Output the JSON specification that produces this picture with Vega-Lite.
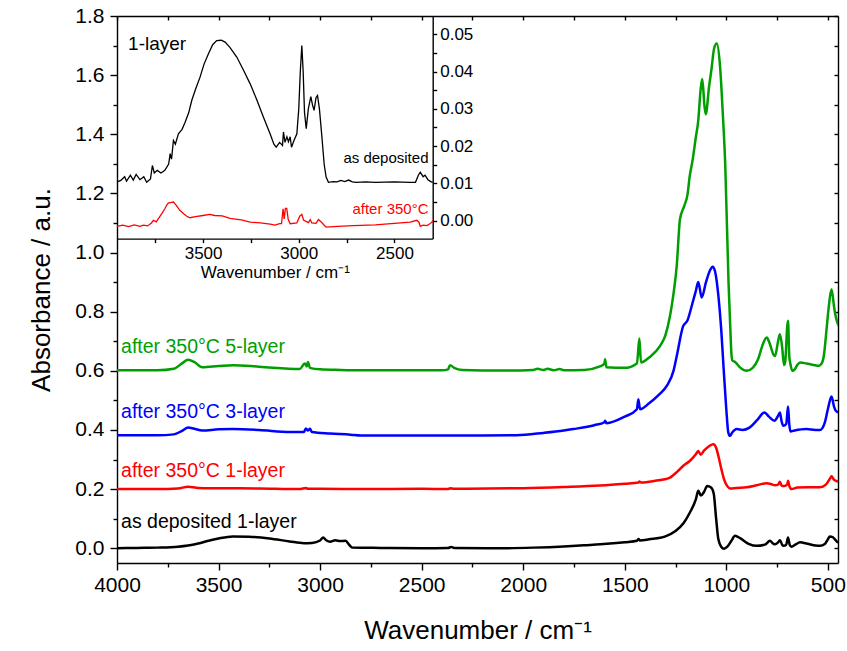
{
  "$schema": "https://vega.github.io/schema/vega-lite/v6.json",
  "width": 721,
  "height": 547,
  "autosize": {"type": "none"},
  "padding": {"left": 117, "top": 16, "right": 9, "bottom": 88},
  "config": {
    "font": "Liberation Sans",
    "view": {"stroke": null},
    "axis": {"grid": false, "domainColor": "#000", "domainWidth": 1.4, "tickColor": "#000", "tickWidth": 1.4, "labelColor": "#000", "titleColor": "#000", "titleFontWeight": "normal", "labelFlush": false, "labelOverlap": false}
  },
  "datasets": {
    "main": [
      {"s":"as deposited 1-layer","w":4000,"a":0.0},{"s":"as deposited 1-layer","w":3900,"a":0.001},{"s":"as deposited 1-layer","w":3800,"a":0.002},{"s":"as deposited 1-layer","w":3700,"a":0.005},{"s":"as deposited 1-layer","w":3650,"a":0.009},{"s":"as deposited 1-layer","w":3600,"a":0.016},{"s":"as deposited 1-layer","w":3550,"a":0.025},{"s":"as deposited 1-layer","w":3500,"a":0.033},{"s":"as deposited 1-layer","w":3430,"a":0.04},{"s":"as deposited 1-layer","w":3350,"a":0.039},{"s":"as deposited 1-layer","w":3250,"a":0.033},{"s":"as deposited 1-layer","w":3150,"a":0.023},{"s":"as deposited 1-layer","w":3080,"a":0.017},{"s":"as deposited 1-layer","w":3040,"a":0.018},{"s":"as deposited 1-layer","w":3000,"a":0.026},{"s":"as deposited 1-layer","w":2985,"a":0.036},{"s":"as deposited 1-layer","w":2970,"a":0.027},{"s":"as deposited 1-layer","w":2950,"a":0.022},{"s":"as deposited 1-layer","w":2925,"a":0.027},{"s":"as deposited 1-layer","w":2900,"a":0.024},{"s":"as deposited 1-layer","w":2875,"a":0.025},{"s":"as deposited 1-layer","w":2855,"a":0.01},{"s":"as deposited 1-layer","w":2840,"a":0.002},{"s":"as deposited 1-layer","w":2700,"a":0.001},{"s":"as deposited 1-layer","w":2500,"a":0.0},{"s":"as deposited 1-layer","w":2370,"a":0.001},{"s":"as deposited 1-layer","w":2355,"a":0.004},{"s":"as deposited 1-layer","w":2340,"a":0.001},{"s":"as deposited 1-layer","w":2100,"a":0.0},{"s":"as deposited 1-layer","w":1950,"a":0.002},{"s":"as deposited 1-layer","w":1800,"a":0.006},{"s":"as deposited 1-layer","w":1700,"a":0.01},{"s":"as deposited 1-layer","w":1620,"a":0.013},{"s":"as deposited 1-layer","w":1500,"a":0.02},{"s":"as deposited 1-layer","w":1440,"a":0.025},{"s":"as deposited 1-layer","w":1432,"a":0.031},{"s":"as deposited 1-layer","w":1425,"a":0.026},{"s":"as deposited 1-layer","w":1380,"a":0.03},{"s":"as deposited 1-layer","w":1300,"a":0.04},{"s":"as deposited 1-layer","w":1250,"a":0.058},{"s":"as deposited 1-layer","w":1210,"a":0.085},{"s":"as deposited 1-layer","w":1180,"a":0.12},{"s":"as deposited 1-layer","w":1150,"a":0.165},{"s":"as deposited 1-layer","w":1138,"a":0.194},{"s":"as deposited 1-layer","w":1125,"a":0.178},{"s":"as deposited 1-layer","w":1110,"a":0.19},{"s":"as deposited 1-layer","w":1094,"a":0.21},{"s":"as deposited 1-layer","w":1075,"a":0.205},{"s":"as deposited 1-layer","w":1062,"a":0.185},{"s":"as deposited 1-layer","w":1050,"a":0.1},{"s":"as deposited 1-layer","w":1039,"a":0.03},{"s":"as deposited 1-layer","w":1025,"a":0.005},{"s":"as deposited 1-layer","w":1011,"a":-0.002},{"s":"as deposited 1-layer","w":995,"a":0.005},{"s":"as deposited 1-layer","w":975,"a":0.025},{"s":"as deposited 1-layer","w":957,"a":0.042},{"s":"as deposited 1-layer","w":930,"a":0.033},{"s":"as deposited 1-layer","w":890,"a":0.015},{"s":"as deposited 1-layer","w":850,"a":0.008},{"s":"as deposited 1-layer","w":810,"a":0.012},{"s":"as deposited 1-layer","w":785,"a":0.025},{"s":"as deposited 1-layer","w":770,"a":0.016},{"s":"as deposited 1-layer","w":760,"a":0.013},{"s":"as deposited 1-layer","w":745,"a":0.02},{"s":"as deposited 1-layer","w":736,"a":0.027},{"s":"as deposited 1-layer","w":725,"a":0.012},{"s":"as deposited 1-layer","w":719,"a":0.008},{"s":"as deposited 1-layer","w":705,"a":0.012},{"s":"as deposited 1-layer","w":696,"a":0.036},{"s":"as deposited 1-layer","w":688,"a":0.012},{"s":"as deposited 1-layer","w":679,"a":0.005},{"s":"as deposited 1-layer","w":660,"a":0.012},{"s":"as deposited 1-layer","w":637,"a":0.02},{"s":"as deposited 1-layer","w":600,"a":0.015},{"s":"as deposited 1-layer","w":560,"a":0.009},{"s":"as deposited 1-layer","w":539,"a":0.008},{"s":"as deposited 1-layer","w":515,"a":0.014},{"s":"as deposited 1-layer","w":500,"a":0.03},{"s":"as deposited 1-layer","w":490,"a":0.04},{"s":"as deposited 1-layer","w":475,"a":0.037},{"s":"as deposited 1-layer","w":465,"a":0.03},{"s":"as deposited 1-layer","w":455,"a":0.022},{"s":"as deposited 1-layer","w":448,"a":0.02},
      {"s":"after 350°C 1-layer","w":4000,"a":0.2},{"s":"after 350°C 1-layer","w":3800,"a":0.2},{"s":"after 350°C 1-layer","w":3700,"a":0.202},{"s":"after 350°C 1-layer","w":3650,"a":0.208},{"s":"after 350°C 1-layer","w":3600,"a":0.204},{"s":"after 350°C 1-layer","w":3500,"a":0.203},{"s":"after 350°C 1-layer","w":3300,"a":0.202},{"s":"after 350°C 1-layer","w":3100,"a":0.2},{"s":"after 350°C 1-layer","w":3070,"a":0.204},{"s":"after 350°C 1-layer","w":3060,"a":0.201},{"s":"after 350°C 1-layer","w":3000,"a":0.201},{"s":"after 350°C 1-layer","w":2800,"a":0.2},{"s":"after 350°C 1-layer","w":2500,"a":0.201},{"s":"after 350°C 1-layer","w":2370,"a":0.2},{"s":"after 350°C 1-layer","w":2360,"a":0.203},{"s":"after 350°C 1-layer","w":2340,"a":0.201},{"s":"after 350°C 1-layer","w":2000,"a":0.203},{"s":"after 350°C 1-layer","w":1800,"a":0.207},{"s":"after 350°C 1-layer","w":1622,"a":0.212},{"s":"after 350°C 1-layer","w":1500,"a":0.218},{"s":"after 350°C 1-layer","w":1432,"a":0.222},{"s":"after 350°C 1-layer","w":1428,"a":0.226},{"s":"after 350°C 1-layer","w":1420,"a":0.222},{"s":"after 350°C 1-layer","w":1350,"a":0.228},{"s":"after 350°C 1-layer","w":1280,"a":0.238},{"s":"after 350°C 1-layer","w":1240,"a":0.26},{"s":"after 350°C 1-layer","w":1210,"a":0.28},{"s":"after 350°C 1-layer","w":1180,"a":0.295},{"s":"after 350°C 1-layer","w":1150,"a":0.318},{"s":"after 350°C 1-layer","w":1138,"a":0.329},{"s":"after 350°C 1-layer","w":1126,"a":0.316},{"s":"after 350°C 1-layer","w":1110,"a":0.33},{"s":"after 350°C 1-layer","w":1085,"a":0.345},{"s":"after 350°C 1-layer","w":1064,"a":0.352},{"s":"after 350°C 1-layer","w":1050,"a":0.34},{"s":"after 350°C 1-layer","w":1039,"a":0.312},{"s":"after 350°C 1-layer","w":1025,"a":0.27},{"s":"after 350°C 1-layer","w":1011,"a":0.233},{"s":"after 350°C 1-layer","w":995,"a":0.21},{"s":"after 350°C 1-layer","w":982,"a":0.202},{"s":"after 350°C 1-layer","w":950,"a":0.204},{"s":"after 350°C 1-layer","w":900,"a":0.206},{"s":"after 350°C 1-layer","w":850,"a":0.213},{"s":"after 350°C 1-layer","w":801,"a":0.22},{"s":"after 350°C 1-layer","w":780,"a":0.217},{"s":"after 350°C 1-layer","w":760,"a":0.213},{"s":"after 350°C 1-layer","w":745,"a":0.215},{"s":"after 350°C 1-layer","w":736,"a":0.225},{"s":"after 350°C 1-layer","w":728,"a":0.212},{"s":"after 350°C 1-layer","w":715,"a":0.21},{"s":"after 350°C 1-layer","w":700,"a":0.215},{"s":"after 350°C 1-layer","w":696,"a":0.228},{"s":"after 350°C 1-layer","w":690,"a":0.212},{"s":"after 350°C 1-layer","w":680,"a":0.2},{"s":"after 350°C 1-layer","w":650,"a":0.205},{"s":"after 350°C 1-layer","w":600,"a":0.206},{"s":"after 350°C 1-layer","w":539,"a":0.206},{"s":"after 350°C 1-layer","w":510,"a":0.215},{"s":"after 350°C 1-layer","w":490,"a":0.235},{"s":"after 350°C 1-layer","w":482,"a":0.243},{"s":"after 350°C 1-layer","w":470,"a":0.232},{"s":"after 350°C 1-layer","w":460,"a":0.228},{"s":"after 350°C 1-layer","w":448,"a":0.225},
      {"s":"after 350°C 3-layer","w":4000,"a":0.382},{"s":"after 350°C 3-layer","w":3800,"a":0.382},{"s":"after 350°C 3-layer","w":3720,"a":0.385},{"s":"after 350°C 3-layer","w":3680,"a":0.397},{"s":"after 350°C 3-layer","w":3650,"a":0.408},{"s":"after 350°C 3-layer","w":3620,"a":0.404},{"s":"after 350°C 3-layer","w":3580,"a":0.398},{"s":"after 350°C 3-layer","w":3500,"a":0.402},{"s":"after 350°C 3-layer","w":3429,"a":0.403},{"s":"after 350°C 3-layer","w":3300,"a":0.4},{"s":"after 350°C 3-layer","w":3150,"a":0.393},{"s":"after 350°C 3-layer","w":3080,"a":0.393},{"s":"after 350°C 3-layer","w":3070,"a":0.405},{"s":"after 350°C 3-layer","w":3060,"a":0.398},{"s":"after 350°C 3-layer","w":3050,"a":0.404},{"s":"after 350°C 3-layer","w":3040,"a":0.393},{"s":"after 350°C 3-layer","w":2950,"a":0.388},{"s":"after 350°C 3-layer","w":2850,"a":0.384},{"s":"after 350°C 3-layer","w":2800,"a":0.381},{"s":"after 350°C 3-layer","w":2600,"a":0.381},{"s":"after 350°C 3-layer","w":2370,"a":0.381},{"s":"after 350°C 3-layer","w":2200,"a":0.381},{"s":"after 350°C 3-layer","w":2032,"a":0.382},{"s":"after 350°C 3-layer","w":1900,"a":0.39},{"s":"after 350°C 3-layer","w":1800,"a":0.398},{"s":"after 350°C 3-layer","w":1753,"a":0.403},{"s":"after 350°C 3-layer","w":1650,"a":0.416},{"s":"after 350°C 3-layer","w":1600,"a":0.426},{"s":"after 350°C 3-layer","w":1597,"a":0.431},{"s":"after 350°C 3-layer","w":1590,"a":0.423},{"s":"after 350°C 3-layer","w":1500,"a":0.445},{"s":"after 350°C 3-layer","w":1440,"a":0.47},{"s":"after 350°C 3-layer","w":1433,"a":0.504},{"s":"after 350°C 3-layer","w":1425,"a":0.47},{"s":"after 350°C 3-layer","w":1380,"a":0.49},{"s":"after 350°C 3-layer","w":1330,"a":0.52},{"s":"after 350°C 3-layer","w":1293,"a":0.549},{"s":"after 350°C 3-layer","w":1260,"a":0.6},{"s":"after 350°C 3-layer","w":1244,"a":0.65},{"s":"after 350°C 3-layer","w":1212,"a":0.752},{"s":"after 350°C 3-layer","w":1192,"a":0.769},{"s":"after 350°C 3-layer","w":1170,"a":0.82},{"s":"after 350°C 3-layer","w":1150,"a":0.87},{"s":"after 350°C 3-layer","w":1138,"a":0.9},{"s":"after 350°C 3-layer","w":1121,"a":0.848},{"s":"after 350°C 3-layer","w":1100,"a":0.9},{"s":"after 350°C 3-layer","w":1080,"a":0.94},{"s":"after 350°C 3-layer","w":1067,"a":0.952},{"s":"after 350°C 3-layer","w":1055,"a":0.935},{"s":"after 350°C 3-layer","w":1039,"a":0.854},{"s":"after 350°C 3-layer","w":1025,"a":0.74},{"s":"after 350°C 3-layer","w":1014,"a":0.617},{"s":"after 350°C 3-layer","w":1000,"a":0.47},{"s":"after 350°C 3-layer","w":990,"a":0.391},{"s":"after 350°C 3-layer","w":982,"a":0.38},{"s":"after 350°C 3-layer","w":970,"a":0.392},{"s":"after 350°C 3-layer","w":949,"a":0.403},{"s":"after 350°C 3-layer","w":920,"a":0.4},{"s":"after 350°C 3-layer","w":886,"a":0.408},{"s":"after 350°C 3-layer","w":850,"a":0.432},{"s":"after 350°C 3-layer","w":812,"a":0.459},{"s":"after 350°C 3-layer","w":790,"a":0.445},{"s":"after 350°C 3-layer","w":763,"a":0.431},{"s":"after 350°C 3-layer","w":745,"a":0.448},{"s":"after 350°C 3-layer","w":736,"a":0.459},{"s":"after 350°C 3-layer","w":728,"a":0.43},{"s":"after 350°C 3-layer","w":719,"a":0.414},{"s":"after 350°C 3-layer","w":705,"a":0.42},{"s":"after 350°C 3-layer","w":696,"a":0.479},{"s":"after 350°C 3-layer","w":690,"a":0.42},{"s":"after 350°C 3-layer","w":684,"a":0.395},{"s":"after 350°C 3-layer","w":664,"a":0.398},{"s":"after 350°C 3-layer","w":606,"a":0.403},{"s":"after 350°C 3-layer","w":560,"a":0.4},{"s":"after 350°C 3-layer","w":539,"a":0.4},{"s":"after 350°C 3-layer","w":515,"a":0.425},{"s":"after 350°C 3-layer","w":500,"a":0.47},{"s":"after 350°C 3-layer","w":482,"a":0.513},{"s":"after 350°C 3-layer","w":470,"a":0.48},{"s":"after 350°C 3-layer","w":461,"a":0.465},{"s":"after 350°C 3-layer","w":446,"a":0.459},
      {"s":"after 350°C 5-layer","w":4000,"a":0.602},{"s":"after 350°C 5-layer","w":3800,"a":0.602},{"s":"after 350°C 5-layer","w":3720,"a":0.607},{"s":"after 350°C 5-layer","w":3680,"a":0.625},{"s":"after 350°C 5-layer","w":3650,"a":0.637},{"s":"after 350°C 5-layer","w":3620,"a":0.63},{"s":"after 350°C 5-layer","w":3580,"a":0.612},{"s":"after 350°C 5-layer","w":3500,"a":0.616},{"s":"after 350°C 5-layer","w":3429,"a":0.619},{"s":"after 350°C 5-layer","w":3300,"a":0.614},{"s":"after 350°C 5-layer","w":3100,"a":0.606},{"s":"after 350°C 5-layer","w":3075,"a":0.625},{"s":"after 350°C 5-layer","w":3066,"a":0.615},{"s":"after 350°C 5-layer","w":3060,"a":0.63},{"s":"after 350°C 5-layer","w":3050,"a":0.61},{"s":"after 350°C 5-layer","w":3000,"a":0.605},{"s":"after 350°C 5-layer","w":2900,"a":0.603},{"s":"after 350°C 5-layer","w":2800,"a":0.602},{"s":"after 350°C 5-layer","w":2600,"a":0.602},{"s":"after 350°C 5-layer","w":2400,"a":0.602},{"s":"after 350°C 5-layer","w":2370,"a":0.605},{"s":"after 350°C 5-layer","w":2360,"a":0.619},{"s":"after 350°C 5-layer","w":2340,"a":0.61},{"s":"after 350°C 5-layer","w":2300,"a":0.603},{"s":"after 350°C 5-layer","w":2100,"a":0.601},{"s":"after 350°C 5-layer","w":1950,"a":0.603},{"s":"after 350°C 5-layer","w":1930,"a":0.607},{"s":"after 350°C 5-layer","w":1900,"a":0.603},{"s":"after 350°C 5-layer","w":1880,"a":0.607},{"s":"after 350°C 5-layer","w":1850,"a":0.602},{"s":"after 350°C 5-layer","w":1820,"a":0.606},{"s":"after 350°C 5-layer","w":1800,"a":0.602},{"s":"after 350°C 5-layer","w":1700,"a":0.603},{"s":"after 350°C 5-layer","w":1622,"a":0.615},{"s":"after 350°C 5-layer","w":1600,"a":0.625},{"s":"after 350°C 5-layer","w":1597,"a":0.639},{"s":"after 350°C 5-layer","w":1590,"a":0.612},{"s":"after 350°C 5-layer","w":1500,"a":0.61},{"s":"after 350°C 5-layer","w":1440,"a":0.625},{"s":"after 350°C 5-layer","w":1428,"a":0.709},{"s":"after 350°C 5-layer","w":1420,"a":0.628},{"s":"after 350°C 5-layer","w":1380,"a":0.645},{"s":"after 350°C 5-layer","w":1326,"a":0.684},{"s":"after 350°C 5-layer","w":1300,"a":0.72},{"s":"after 350°C 5-layer","w":1277,"a":0.786},{"s":"after 350°C 5-layer","w":1260,"a":0.86},{"s":"after 350°C 5-layer","w":1244,"a":0.955},{"s":"after 350°C 5-layer","w":1228,"a":1.113},{"s":"after 350°C 5-layer","w":1207,"a":1.158},{"s":"after 350°C 5-layer","w":1190,"a":1.2},{"s":"after 350°C 5-layer","w":1181,"a":1.254},{"s":"after 350°C 5-layer","w":1165,"a":1.316},{"s":"after 350°C 5-layer","w":1150,"a":1.39},{"s":"after 350°C 5-layer","w":1139,"a":1.44},{"s":"after 350°C 5-layer","w":1125,"a":1.56},{"s":"after 350°C 5-layer","w":1118,"a":1.587},{"s":"after 350°C 5-layer","w":1108,"a":1.5},{"s":"after 350°C 5-layer","w":1101,"a":1.468},{"s":"after 350°C 5-layer","w":1085,"a":1.56},{"s":"after 350°C 5-layer","w":1073,"a":1.62},{"s":"after 350°C 5-layer","w":1060,"a":1.69},{"s":"after 350°C 5-layer","w":1047,"a":1.707},{"s":"after 350°C 5-layer","w":1031,"a":1.632},{"s":"after 350°C 5-layer","w":1018,"a":1.48},{"s":"after 350°C 5-layer","w":1005,"a":1.293},{"s":"after 350°C 5-layer","w":989,"a":0.899},{"s":"after 350°C 5-layer","w":980,"a":0.741},{"s":"after 350°C 5-layer","w":975,"a":0.66},{"s":"after 350°C 5-layer","w":970,"a":0.635},{"s":"after 350°C 5-layer","w":957,"a":0.63},{"s":"after 350°C 5-layer","w":930,"a":0.61},{"s":"after 350°C 5-layer","w":900,"a":0.6},{"s":"after 350°C 5-layer","w":870,"a":0.61},{"s":"after 350°C 5-layer","w":843,"a":0.64},{"s":"after 350°C 5-layer","w":820,"a":0.69},{"s":"after 350°C 5-layer","w":801,"a":0.713},{"s":"after 350°C 5-layer","w":785,"a":0.69},{"s":"after 350°C 5-layer","w":768,"a":0.655},{"s":"after 350°C 5-layer","w":760,"a":0.65},{"s":"after 350°C 5-layer","w":745,"a":0.7},{"s":"after 350°C 5-layer","w":736,"a":0.724},{"s":"after 350°C 5-layer","w":725,"a":0.68},{"s":"after 350°C 5-layer","w":716,"a":0.62},{"s":"after 350°C 5-layer","w":710,"a":0.63},{"s":"after 350°C 5-layer","w":700,"a":0.75},{"s":"after 350°C 5-layer","w":696,"a":0.769},{"s":"after 350°C 5-layer","w":690,"a":0.65},{"s":"after 350°C 5-layer","w":684,"a":0.622},{"s":"after 350°C 5-layer","w":675,"a":0.6},{"s":"after 350°C 5-layer","w":664,"a":0.604},{"s":"after 350°C 5-layer","w":650,"a":0.62},{"s":"after 350°C 5-layer","w":637,"a":0.628},{"s":"after 350°C 5-layer","w":606,"a":0.625},{"s":"after 350°C 5-layer","w":570,"a":0.62},{"s":"after 350°C 5-layer","w":544,"a":0.617},{"s":"after 350°C 5-layer","w":530,"a":0.625},{"s":"after 350°C 5-layer","w":520,"a":0.65},{"s":"after 350°C 5-layer","w":505,"a":0.75},{"s":"after 350°C 5-layer","w":495,"a":0.82},{"s":"after 350°C 5-layer","w":482,"a":0.876},{"s":"after 350°C 5-layer","w":470,"a":0.82},{"s":"after 350°C 5-layer","w":465,"a":0.797},{"s":"after 350°C 5-layer","w":456,"a":0.77},{"s":"after 350°C 5-layer","w":446,"a":0.752}
    ],
    "inset": [
      {"s":"as deposited","w":3950,"v":0.0104},{"s":"as deposited","w":3930,"v":0.0108},{"s":"as deposited","w":3910,"v":0.0118},{"s":"as deposited","w":3900,"v":0.0106},{"s":"as deposited","w":3880,"v":0.0122},{"s":"as deposited","w":3865,"v":0.0109},{"s":"as deposited","w":3850,"v":0.0124},{"s":"as deposited","w":3830,"v":0.011},{"s":"as deposited","w":3810,"v":0.0118},{"s":"as deposited","w":3795,"v":0.0103},{"s":"as deposited","w":3775,"v":0.0112},{"s":"as deposited","w":3765,"v":0.0148},{"s":"as deposited","w":3755,"v":0.0128},{"s":"as deposited","w":3740,"v":0.0135},{"s":"as deposited","w":3720,"v":0.0128},{"s":"as deposited","w":3700,"v":0.0135},{"s":"as deposited","w":3680,"v":0.0152},{"s":"as deposited","w":3672,"v":0.018},{"s":"as deposited","w":3665,"v":0.0165},{"s":"as deposited","w":3655,"v":0.0215},{"s":"as deposited","w":3645,"v":0.0205},{"s":"as deposited","w":3629,"v":0.0233},{"s":"as deposited","w":3610,"v":0.0245},{"s":"as deposited","w":3594,"v":0.0264},{"s":"as deposited","w":3575,"v":0.029},{"s":"as deposited","w":3559,"v":0.0323},{"s":"as deposited","w":3540,"v":0.0352},{"s":"as deposited","w":3516,"v":0.0385},{"s":"as deposited","w":3495,"v":0.042},{"s":"as deposited","w":3472,"v":0.0448},{"s":"as deposited","w":3450,"v":0.0472},{"s":"as deposited","w":3429,"v":0.0483},{"s":"as deposited","w":3405,"v":0.0484},{"s":"as deposited","w":3385,"v":0.0479},{"s":"as deposited","w":3360,"v":0.0465},{"s":"as deposited","w":3324,"v":0.0439},{"s":"as deposited","w":3290,"v":0.0405},{"s":"as deposited","w":3254,"v":0.0367},{"s":"as deposited","w":3220,"v":0.0325},{"s":"as deposited","w":3185,"v":0.0278},{"s":"as deposited","w":3150,"v":0.0233},{"s":"as deposited","w":3130,"v":0.0205},{"s":"as deposited","w":3118,"v":0.0197},{"s":"as deposited","w":3100,"v":0.021},{"s":"as deposited","w":3085,"v":0.0202},{"s":"as deposited","w":3080,"v":0.0238},{"s":"as deposited","w":3072,"v":0.021},{"s":"as deposited","w":3062,"v":0.0225},{"s":"as deposited","w":3054,"v":0.0212},{"s":"as deposited","w":3045,"v":0.0225},{"s":"as deposited","w":3038,"v":0.0197},{"s":"as deposited","w":3025,"v":0.0215},{"s":"as deposited","w":3010,"v":0.0233},{"s":"as deposited","w":3000,"v":0.03},{"s":"as deposited","w":2992,"v":0.04},{"s":"as deposited","w":2984,"v":0.047},{"s":"as deposited","w":2977,"v":0.04},{"s":"as deposited","w":2970,"v":0.029},{"s":"as deposited","w":2961,"v":0.0247},{"s":"as deposited","w":2950,"v":0.03},{"s":"as deposited","w":2937,"v":0.0333},{"s":"as deposited","w":2928,"v":0.031},{"s":"as deposited","w":2920,"v":0.0296},{"s":"as deposited","w":2910,"v":0.033},{"s":"as deposited","w":2902,"v":0.0336},{"s":"as deposited","w":2892,"v":0.03},{"s":"as deposited","w":2879,"v":0.0224},{"s":"as deposited","w":2867,"v":0.015},{"s":"as deposited","w":2857,"v":0.0117},{"s":"as deposited","w":2845,"v":0.0103},{"s":"as deposited","w":2820,"v":0.0105},{"s":"as deposited","w":2800,"v":0.0104},{"s":"as deposited","w":2780,"v":0.0108},{"s":"as deposited","w":2760,"v":0.0105},{"s":"as deposited","w":2740,"v":0.0109},{"s":"as deposited","w":2720,"v":0.0104},{"s":"as deposited","w":2700,"v":0.0103},{"s":"as deposited","w":2650,"v":0.0104},{"s":"as deposited","w":2600,"v":0.0103},{"s":"as deposited","w":2500,"v":0.0104},{"s":"as deposited","w":2420,"v":0.0103},{"s":"as deposited","w":2390,"v":0.0103},{"s":"as deposited","w":2375,"v":0.0122},{"s":"as deposited","w":2365,"v":0.013},{"s":"as deposited","w":2350,"v":0.0118},{"s":"as deposited","w":2340,"v":0.0122},{"s":"as deposited","w":2325,"v":0.011},{"s":"as deposited","w":2310,"v":0.0105},{"s":"as deposited","w":2300,"v":0.0103},
      {"s":"after 350°C","w":3950,"v":-0.0015},{"s":"after 350°C","w":3920,"v":-0.0012},{"s":"after 350°C","w":3890,"v":-0.0016},{"s":"after 350°C","w":3860,"v":-0.0011},{"s":"after 350°C","w":3830,"v":-0.0015},{"s":"after 350°C","w":3812,"v":-0.0012},{"s":"after 350°C","w":3790,"v":-0.0014},{"s":"after 350°C","w":3770,"v":-0.0006},{"s":"after 350°C","w":3760,"v":0.0001},{"s":"after 350°C","w":3745,"v":-0.0003},{"s":"after 350°C","w":3730,"v":0.0008},{"s":"after 350°C","w":3716,"v":0.0019},{"s":"after 350°C","w":3700,"v":0.0032},{"s":"after 350°C","w":3690,"v":0.0042},{"s":"after 350°C","w":3682,"v":0.0047},{"s":"after 350°C","w":3665,"v":0.0049},{"s":"after 350°C","w":3655,"v":0.005},{"s":"after 350°C","w":3640,"v":0.0041},{"s":"after 350°C","w":3622,"v":0.0028},{"s":"after 350°C","w":3600,"v":0.0018},{"s":"after 350°C","w":3585,"v":0.0012},{"s":"after 350°C","w":3569,"v":0.0008},{"s":"after 350°C","w":3540,"v":0.0011},{"s":"after 350°C","w":3500,"v":0.0014},{"s":"after 350°C","w":3465,"v":0.0017},{"s":"after 350°C","w":3440,"v":0.0014},{"s":"after 350°C","w":3400,"v":0.0013},{"s":"after 350°C","w":3359,"v":0.0006},{"s":"after 350°C","w":3300,"v":0.0002},{"s":"after 350°C","w":3254,"v":-0.0004},{"s":"after 350°C","w":3200,"v":-0.0006},{"s":"after 350°C","w":3150,"v":-0.0009},{"s":"after 350°C","w":3124,"v":-0.0012},{"s":"after 350°C","w":3100,"v":-0.0008},{"s":"after 350°C","w":3090,"v":-0.0008},{"s":"after 350°C","w":3082,"v":0.0032},{"s":"after 350°C","w":3076,"v":0.0005},{"s":"after 350°C","w":3070,"v":0.0033},{"s":"after 350°C","w":3063,"v":0.0033},{"s":"after 350°C","w":3055,"v":0.0003},{"s":"after 350°C","w":3045,"v":-0.0008},{"s":"after 350°C","w":3010,"v":-0.0006},{"s":"after 350°C","w":2995,"v":0.0012},{"s":"after 350°C","w":2984,"v":0.0017},{"s":"after 350°C","w":2975,"v":0.0002},{"s":"after 350°C","w":2950,"v":-0.0005},{"s":"after 350°C","w":2940,"v":0.0003},{"s":"after 350°C","w":2932,"v":-0.0006},{"s":"after 350°C","w":2910,"v":-0.0007},{"s":"after 350°C","w":2897,"v":0.0003},{"s":"after 350°C","w":2880,"v":-0.0005},{"s":"after 350°C","w":2860,"v":-0.0016},{"s":"after 350°C","w":2853,"v":-0.0017},{"s":"after 350°C","w":2800,"v":-0.0015},{"s":"after 350°C","w":2714,"v":-0.0013},{"s":"after 350°C","w":2600,"v":-0.0011},{"s":"after 350°C","w":2500,"v":-0.0007},{"s":"after 350°C","w":2418,"v":-0.0004},{"s":"after 350°C","w":2383,"v":0.0001},{"s":"after 350°C","w":2372,"v":-0.0004},{"s":"after 350°C","w":2365,"v":-0.0015},{"s":"after 350°C","w":2350,"v":-0.0012},{"s":"after 350°C","w":2330,"v":-0.0013},{"s":"after 350°C","w":2315,"v":-0.0008},{"s":"after 350°C","w":2304,"v":-0.0004},{"s":"after 350°C","w":2300,"v":0.0001}
    ],
    "mainLabels": [
      {"s":"after 350°C 5-layer","w":3980,"a":0.679},
      {"s":"after 350°C 3-layer","w":3980,"a":0.46},
      {"s":"after 350°C 1-layer","w":3980,"a":0.2615},
      {"s":"as deposited 1-layer","w":3980,"a":0.089}
    ],
    "insetLabels": [
      {"s":"as deposited","t":"as deposited","w":2322,"v":0.0168},
      {"s":"after 350°C","t":"after 350°C","w":2322,"v":0.0032}
    ],
    "insetTitle": [
      {"t":"1-layer","w":3892,"v":0.0474}
    ]
  },
  "resolve": {
    "scale": {"x": "independent", "y": "independent", "color": "independent"},
    "axis": {"x": "independent", "y": "independent"}
  },
  "layer": [
    {
      "data": {"name": "main"},
      "mark": {"type": "line", "strokeWidth": 2.5, "clip": true, "interpolate": "monotone"},
      "encoding": {
        "x": {"field": "w", "type": "quantitative", "scale": {"domain": [4000, 450], "nice": false, "zero": false},
          "axis": {"orient": "bottom", "values": [4000,3500,3000,2500,2000,1500,1000,500], "format": "d", "labelFontSize": 21, "tickSize": 7, "labelPadding": 4, "title": "Wavenumber / cm⁻¹", "titleFontSize": 26, "titlePadding": 22}},
        "y": {"field": "a", "type": "quantitative", "scale": {"domain": [-0.05, 1.8], "nice": false, "zero": false},
          "axis": {"orient": "left", "values": [0,0.2,0.4,0.6,0.8,1.0,1.2,1.4,1.6,1.8], "format": ".1f", "labelFontSize": 21, "tickSize": 7, "labelPadding": 6, "title": "Absorbance / a.u.", "titleFontSize": 26, "titlePadding": 20}},
        "color": {"field": "s", "type": "nominal", "scale": {"domain": ["as deposited 1-layer","after 350°C 1-layer","after 350°C 3-layer","after 350°C 5-layer"], "range": ["#000000","#ff0000","#0000ff","#009e00"]}, "legend": null}
      }
    },
    {
      "data": {"name": "main"},
      "mark": {"type": "line", "strokeOpacity": 0},
      "encoding": {
        "x": {"field": "w", "type": "quantitative", "scale": {"domain": [4000, 450], "nice": false, "zero": false},
          "axis": {"orient": "bottom", "values": [3750,3250,2750,2250,1750,1250,750], "labels": false, "domain": false, "tickSize": 4, "title": null}},
        "y": {"field": "a", "type": "quantitative", "scale": {"domain": [-0.05, 1.8], "nice": false, "zero": false},
          "axis": {"orient": "left", "values": [0.1,0.3,0.5,0.7,0.9,1.1,1.3,1.5,1.7], "labels": false, "domain": false, "tickSize": 4, "title": null}}
      }
    },
    {
      "data": {"name": "main"},
      "mark": {"type": "line", "strokeOpacity": 0},
      "encoding": {
        "x": {"field": "w", "type": "quantitative", "scale": {"domain": [4000, 450], "nice": false, "zero": false},
          "axis": {"orient": "top", "values": [4000,3750,3500,3250,3000,2750,2500,2250,2000,1750,1500,1250,1000,750,500], "labels": false, "tickSize": -4, "title": null}},
        "y": {"field": "a", "type": "quantitative", "scale": {"domain": [-0.05, 1.8], "nice": false, "zero": false},
          "axis": {"orient": "right", "values": [0,0.1,0.2,0.3,0.4,0.5,0.6,0.7,0.8,0.9,1.0,1.1,1.2,1.3,1.4,1.5,1.6,1.7,1.8], "labels": false, "tickSize": -4, "title": null}}
      }
    },
    {
      "data": {"name": "mainLabels"},
      "mark": {"type": "text", "align": "left", "baseline": "middle", "fontSize": 19.5},
      "encoding": {
        "x": {"field": "w", "type": "quantitative", "scale": {"domain": [4000, 450], "nice": false, "zero": false}, "axis": null},
        "y": {"field": "a", "type": "quantitative", "scale": {"domain": [-0.05, 1.8], "nice": false, "zero": false}, "axis": null},
        "text": {"field": "s"},
        "color": {"field": "s", "type": "nominal", "scale": {"domain": ["as deposited 1-layer","after 350°C 1-layer","after 350°C 3-layer","after 350°C 5-layer"], "range": ["#000000","#ff0000","#0000ff","#009e00"]}, "legend": null}
      }
    },
    {
      "data": {"name": "inset"},
      "mark": {"type": "line", "strokeWidth": 1.3},
      "encoding": {
        "x": {"field": "w", "type": "quantitative", "scale": {"domain": [3950, 2300], "range": [0, 315.7], "nice": false, "zero": false},
          "axis": {"orient": "bottom", "offset": -324.4, "values": [3750,3500,3250,3000,2750,2500], "format": "d", "labelExpr": "datum.value % 500 === 0 ? datum.label : ''", "labelFontSize": 17, "tickSize": 4, "labelPadding": 3, "title": "Wavenumber / cm⁻¹", "titleFontSize": 17, "titlePadding": 3}},
        "y": {"field": "v", "type": "quantitative", "scale": {"domain": [-0.0048, 0.0549], "range": [222.6, 0], "nice": false, "zero": false},
          "axis": {"orient": "right", "offset": -405.3, "values": [0,0.005,0.01,0.015,0.02,0.025,0.03,0.035,0.04,0.045,0.05], "format": ".2f", "labelExpr": "round(datum.value*1000) % 10 === 0 ? datum.label : ''", "labelFontSize": 17, "tickSize": 4, "labelPadding": 3, "title": null}},
        "color": {"field": "s", "type": "nominal", "scale": {"domain": ["as deposited","after 350°C"], "range": ["#000000","#ff0000"]}, "legend": null}
      }
    },
    {
      "data": {"name": "insetLabels"},
      "mark": {"type": "text", "align": "right", "baseline": "middle", "fontSize": 15},
      "encoding": {
        "x": {"field": "w", "type": "quantitative", "scale": {"domain": [3950, 2300], "range": [0, 315.7], "nice": false, "zero": false}, "axis": null},
        "y": {"field": "v", "type": "quantitative", "scale": {"domain": [-0.0048, 0.0549], "range": [222.6, 0], "nice": false, "zero": false}, "axis": null},
        "text": {"field": "t"},
        "color": {"field": "s", "type": "nominal", "scale": {"domain": ["as deposited","after 350°C"], "range": ["#000000","#ff0000"]}, "legend": null}
      }
    },
    {
      "data": {"name": "insetTitle"},
      "mark": {"type": "text", "align": "left", "baseline": "middle", "fontSize": 19, "color": "#000000"},
      "encoding": {
        "x": {"field": "w", "type": "quantitative", "scale": {"domain": [3950, 2300], "range": [0, 315.7], "nice": false, "zero": false}, "axis": null},
        "y": {"field": "v", "type": "quantitative", "scale": {"domain": [-0.0048, 0.0549], "range": [222.6, 0], "nice": false, "zero": false}, "axis": null},
        "text": {"field": "t"}
      }
    }
  ]
}
